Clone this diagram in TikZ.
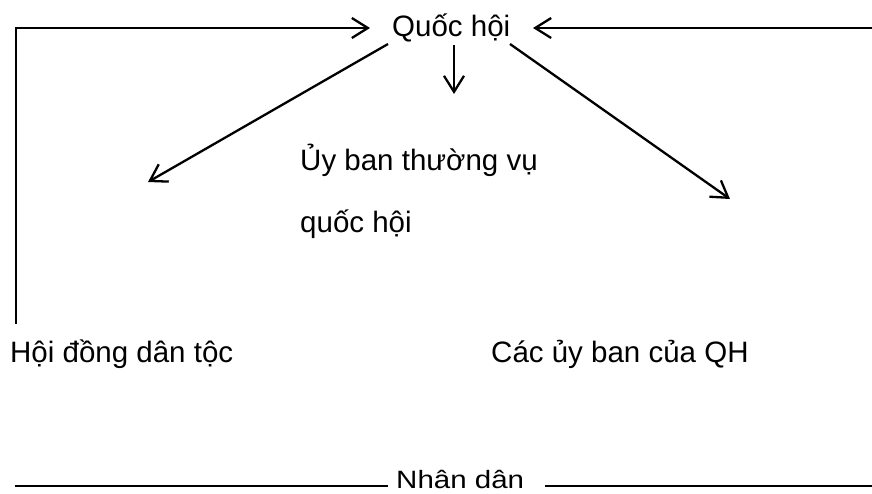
\documentclass[tikz,border=0pt]{standalone}
\usepackage{fontspec}
\setmainfont{Liberation Sans}
\usetikzlibrary{arrows.meta}
\begin{document}
\begin{tikzpicture}[x=1pt,y=-1pt,
  ln/.style={line width=2.3pt},
  arr/.style={line width=2.3pt, -{Straight Barb[length=16pt,width=20pt]}},
  lbl/.style={anchor=base west, inner sep=0pt, font=\fontsize{29.5}{35}\selectfont}]
\useasboundingbox (0,0) rectangle (872,493);
% texts
\node[lbl] (qh) at (392,36) {Quốc hội};
\node[lbl] (ub) at (300,170) {Ủy ban thường vụ};
\node[lbl] (ub2) at (300,232) {quốc hội};
\node[lbl] (hd) at (10,362) {Hội đồng dân tộc};
\node[lbl] (cu) at (491,362) {Các ủy ban của QH};
\node[lbl] (nd) at (396,488) {\scalebox{1}[0.85]{Nhân dân}};
% coordinates
\coordinate (hdtop) at (16,324);
\coordinate (qhL) at (370,28);
\coordinate (rE) at (872,28);
\coordinate (qhR) at (533,28);
\coordinate (dS) at (454,45);
\coordinate (dE) at (454,94);
\coordinate (lS) at (388,44);
\coordinate (lE) at (148,182);
\coordinate (rS) at (510,44);
\coordinate (rEnd) at (730,199);
\coordinate (ndL1) at (15,486);
\coordinate (ndL2) at (388,486);
\coordinate (ndR1) at (545,486);
\coordinate (ndR2) at (872,486);
% connectors
\draw[arr] (hdtop) |- (qhL);
\draw[arr] (rE) -- (qhR);
\draw[arr] (dS) -- (dE);
\draw[arr] (lS) -- (lE);
\draw[arr] (rS) -- (rEnd);
\draw[ln] (ndL1) -- (ndL2);
\draw[ln] (ndR1) -- (ndR2);
\end{tikzpicture}
\end{document}
